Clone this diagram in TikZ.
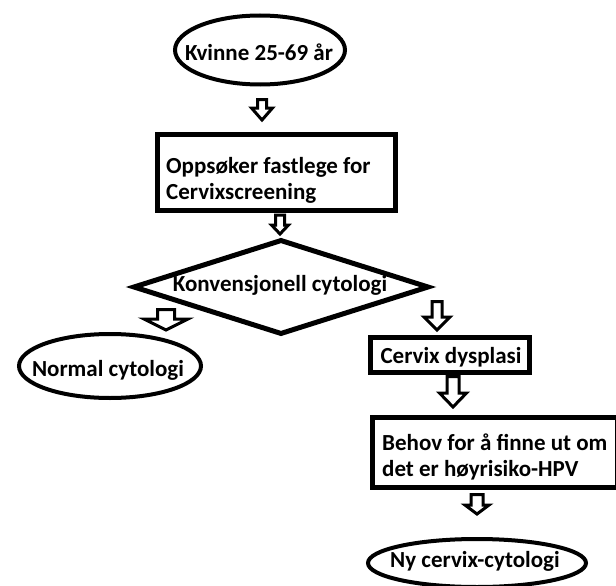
\documentclass[tikz,border=0pt]{standalone}
\usepackage{fontspec}
\setmainfont{Carlito}
\usetikzlibrary{shapes.geometric}
\tikzset{
  lbl/.style={font=\bfseries\fontsize{23}{26}\selectfont, inner sep=0pt},
  oval/.style={ellipse, draw, line width=4pt, inner sep=0pt},
  boxnode/.style={rectangle, draw, line width=5pt, inner sep=0pt},
  decide/.style={diamond, draw, line width=5pt, inner sep=0pt},
  barrow/.style={draw, fill=white, line width=3pt, line join=miter}
}
\newcommand\blockarrow[6]{%
  \draw[barrow] (#1-#5,#2) -- (#1+#5,#2) -- (#1+#5,#3) -- (#1+#6,#3) -- (#1,#4) -- (#1-#6,#3) -- (#1-#5,#3) -- cycle;}
\begin{document}
\begin{tikzpicture}[x=1pt,y=-1pt]
\useasboundingbox[fill=white] (0,0) rectangle (616,586);
% shapes
\node[oval, minimum width=170pt, minimum height=69pt] (kv) at (260,50) {};
\node[lbl] (kvt) at (259,52) {Kvinne 25-69 år};

\node[boxnode, minimum width=238pt, minimum height=76pt] (opp) at (276.5,172.5) {};
\node[lbl, anchor=west, align=left] (oppt) at (166,180) {Oppsøker fastlege for\\Cervixscreening};

\node[decide, minimum width=296pt, minimum height=95pt] (kon) at (281,287) {};
\node[lbl] (kont) at (280,285) {Konvensjonell cytologi};

\node[oval, minimum width=182pt, minimum height=64pt] (nor) at (110,366) {};
\node[lbl] (nort) at (108,370) {Normal cytologi};

\node[boxnode, minimum width=159pt, minimum height=35pt] (cer) at (450,355) {};
\node[lbl] (cert) at (451,357) {Cervix dysplasi};

\node[boxnode, minimum width=245pt, minimum height=70pt] (beh) at (495,452.5) {};
\node[lbl, anchor=west, align=left] (beht) at (382,457) {Behov for å finne ut om\\det er høyrisiko-HPV};

\node[oval, minimum width=218pt, minimum height=48pt] (ny) at (477,563) {};
\node[lbl] (nyt) at (475,561) {Ny cervix-cytologi};

% block arrows
\blockarrow{262}{99.5}{108}{120}{4.5}{10.5}
\blockarrow{280}{215}{225}{234}{4.5}{8.5}
\blockarrow{166}{309.5}{319}{330}{8.5}{22}
\blockarrow{437}{301.5}{317}{330}{5}{13}
\blockarrow{453}{376.5}{393}{407}{6}{13.5}
\blockarrow{477}{494.5}{505}{514}{6}{12}
\end{tikzpicture}
\end{document}
